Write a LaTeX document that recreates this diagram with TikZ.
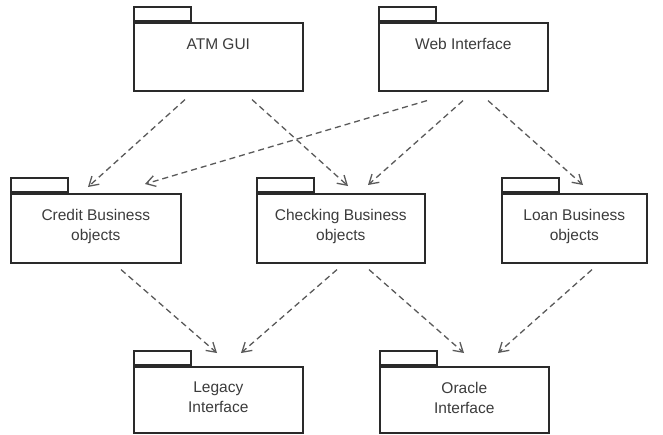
\documentclass[tikz,border=0pt]{standalone}
\usepackage{fontspec}
\setmainfont{Liberation Sans}
\usetikzlibrary{arrows.meta}
\definecolor{boxc}{HTML}{2A2A2A}
\definecolor{textc}{HTML}{3C3C3C}
\definecolor{arrc}{HTML}{5A5A5A}
\tikzset{
 pkgbody/.style={draw=boxc, line width=1.6pt, anchor=north west, inner sep=0pt},
 pkgtab/.style={draw=boxc, line width=1.6pt, anchor=south west, inner sep=0pt, minimum width=57pt, minimum height=14pt},
 pkgtext/.style={anchor=north, inner sep=0pt, align=center, text=textc, font=\fontsize{15.5}{20}\selectfont},
 dep/.style={draw=arrc, line width=1.3pt, dash pattern=on 6pt off 4pt, -{Straight Barb[length=9pt,width=11pt]}}
}
\newcommand\pkgdraw[6]{%
 \node[pkgbody, minimum width=#4pt, minimum height=#5pt] (#1) at (#2,#3) {};
 \node[pkgtab] (#1-tab) at (#1.north west) {};
 \node[pkgtext] (#1-label) at ([yshift=-16pt]#1.north) {#6};
}
\begin{document}
\begin{tikzpicture}[x=1pt,y=-1pt]
\useasboundingbox[fill=white] (0,0) rectangle (663,434);
\pkgdraw{atm}{133}{22}{169}{68}{ATM GUI}
\pkgdraw{web}{378}{22}{169}{68}{Web Interface}
\pkgdraw{credit}{10}{193}{170}{69}{Credit Business\\objects}
\pkgdraw{checking}{256}{193}{168}{69}{Checking Business\\objects}
\pkgdraw{loan}{501}{193}{145}{69}{Loan Business\\objects}
\pkgdraw{legacy}{133}{366}{169}{66}{Legacy\\Interface}
\pkgdraw{oracle}{379}{366}{169}{66}{Oracle\\Interface}
% top layer
\draw[dep] ([xshift=52pt,yshift=-8pt]atm.south west) -- ([xshift=78pt,yshift=6pt]credit.north west);
\draw[dep] ([xshift=119pt,yshift=-8pt]atm.south west) -- ([xshift=92pt,yshift=7pt]checking.north west);
\draw[dep] ([xshift=49pt,yshift=-9pt]web.south west) -- ([xshift=135pt,yshift=9pt]credit.north west);
\draw[dep] ([xshift=85pt,yshift=-9pt]web.south west) -- ([xshift=112pt,yshift=8pt]checking.north west);
\draw[dep] ([xshift=110pt,yshift=-9pt]web.south west) -- ([xshift=82pt,yshift=8pt]loan.north west);
% bottom layer
\draw[dep] ([xshift=111pt,yshift=-6pt]credit.south west) -- ([xshift=84pt,yshift=13pt]legacy.north west);
\draw[dep] ([xshift=81pt,yshift=-6pt]checking.south west) -- ([xshift=108pt,yshift=13pt]legacy.north west);
\draw[dep] ([xshift=113pt,yshift=-6pt]checking.south west) -- ([xshift=85pt,yshift=13pt]oracle.north west);
\draw[dep] ([xshift=91pt,yshift=-6pt]loan.south west) -- ([xshift=119pt,yshift=13pt]oracle.north west);
\end{tikzpicture}
\end{document}
